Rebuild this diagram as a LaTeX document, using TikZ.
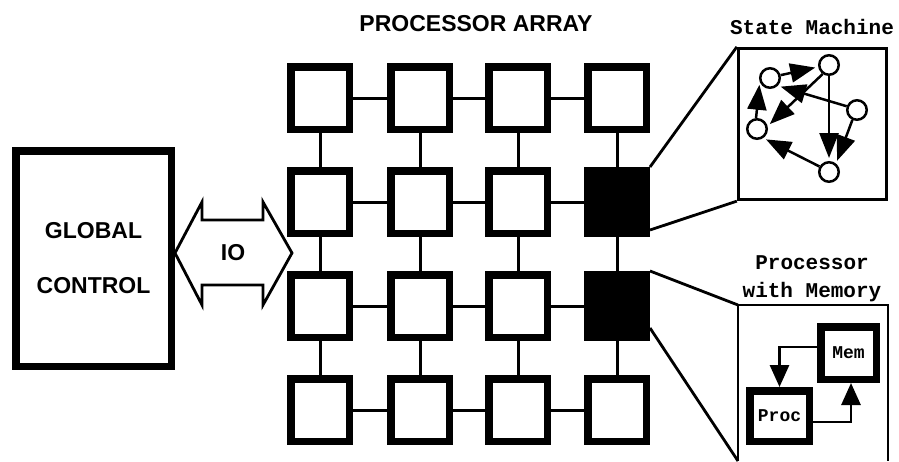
\documentclass[tikz,border=0pt]{standalone}
\usepackage{fontspec}
\setmainfont{Liberation Sans}
\newfontfamily\plotmono{Liberation Mono}
\usetikzlibrary{arrows.meta}

\tikzset{
  pe/.style={draw, line width=7.5pt, minimum width=58.5pt, minimum height=62.5pt, inner sep=0pt},
  link/.style={line width=3pt},
  bigbox/.style={draw, line width=7.5pt, inner sep=0pt},
  thinbox/.style={draw, line width=2.8pt, inner sep=0pt},
  zoomline/.style={line width=2.8pt},
  state/.style={circle, draw, line width=2.5pt, minimum size=19.5pt, inner sep=0pt, fill=white},
  sarrow/.style={line width=2.5pt, shorten >=3pt, -{Triangle[length=25pt,width=19pt]}},
  marrow/.style={line width=2.8pt, -{Triangle[length=22pt,width=19pt]}},
  plotlabel/.style={font=\bfseries\fontsize{23}{23}\selectfont, inner sep=0pt},
  monolabel/.style={font=\plotmono\bfseries\fontsize{21}{28}\selectfont, inner sep=0pt, align=center},
  boxlabel/.style={font=\plotmono\bfseries\fontsize{18}{18}\selectfont},
}

\begin{document}
\begin{tikzpicture}[x=1pt, y=-1pt]
\useasboundingbox (0,0) rectangle (899,461);

% processor array: 4 x 4 grid of processing elements
\foreach \r/\y in {1/98,2/202,3/306,4/410}
  \foreach \c/\x in {1/320,2/420,3/518,4/617} {
    \def\shade{white}
    \ifnum\c=4 \ifnum\r>1 \ifnum\r<4 \def\shade{black}\fi\fi\fi
    \node[pe, fill=\shade] (p\r\c) at (\x,\y) {};
  }
\foreach \r in {1,...,4}
  \foreach \a/\b in {1/2,2/3,3/4} {
    \draw[link] (p\r\a) -- (p\r\b);
    \draw[link] (p\a\r) -- (p\b\r);
  }
\node[plotlabel] (title) at (476,24) {PROCESSOR ARRAY};

% global control and IO link
\node[bigbox, minimum width=155.5pt, minimum height=215.5pt,
      align=center, font=\bfseries\fontsize{23}{55}\selectfont] (gc) at (93.5,258.5)
      {GLOBAL\\CONTROL};
\draw[line width=2.8pt, line join=miter]
  (175,253) -- (202,202) -- (202,220) -- (263,220) -- (263,202) -- (292,253)
  -- (263,305) -- (263,285) -- (202,285) -- (202,305) -- cycle;
\node[plotlabel] (io) at (233,253) {IO};

% state machine detail
\node[thinbox, minimum width=148.5pt, minimum height=151.5pt] (sm) at (812.5,124) {};
\node[monolabel] (smtitle) at (812,27) {State Machine};
\draw[zoomline] (p24.north east) -- (sm.north west);
\draw[zoomline] ([yshift=7pt]p24.south east) -- (sm.south west);

\node[state] (sa) at (770,78) {};
\node[state] (sb) at (829,65) {};
\node[state] (sc) at (857,110) {};
\node[state] (sd) at (757,129) {};
\node[state] (se) at (829,172) {};
\draw[sarrow] (sa.15) -- (sb.190);
\draw[sarrow] (sc.160) -- (sa.-45);
\draw[sarrow] (sb.235) -- (sd.15);
\draw[sarrow] (sd.95) -- (sa.200);
\draw[sarrow] (sb.south) -- (se.north);
\draw[sarrow] (sc.245) -- (se.50);
\draw[sarrow] (se.150) -- (sd.-55);

% processor with memory detail
\coordinate (pmbl) at (738,461);
\coordinate (pmtl) at (738,305);
\coordinate (pmtr) at (888,305);
\coordinate (pmbr) at (888,461);
\draw[zoomline, line join=miter] (pmbl) -- (pmtl) -- (pmtr) -- (pmbr);
\node[monolabel] (pmtitle) at (812,279) {Processor\\with Memory};
\draw[zoomline] (p34.north east) -- (pmtl);
\draw[zoomline] ([yshift=-22pt]p34.east) -- (pmbl);

\node[bigbox, boxlabel, minimum width=55.5pt, minimum height=52.5pt] (mem) at (848.5,353) {Mem};
\node[bigbox, boxlabel, minimum width=59.5pt, minimum height=50.5pt] (proc) at (779.5,416) {Proc};
\draw[marrow] ([yshift=6pt]mem.west) -| (proc.north);
\draw[marrow] ([yshift=-6pt]proc.east) -| ([xshift=2.5pt]mem.south);
\end{tikzpicture}
\end{document}
